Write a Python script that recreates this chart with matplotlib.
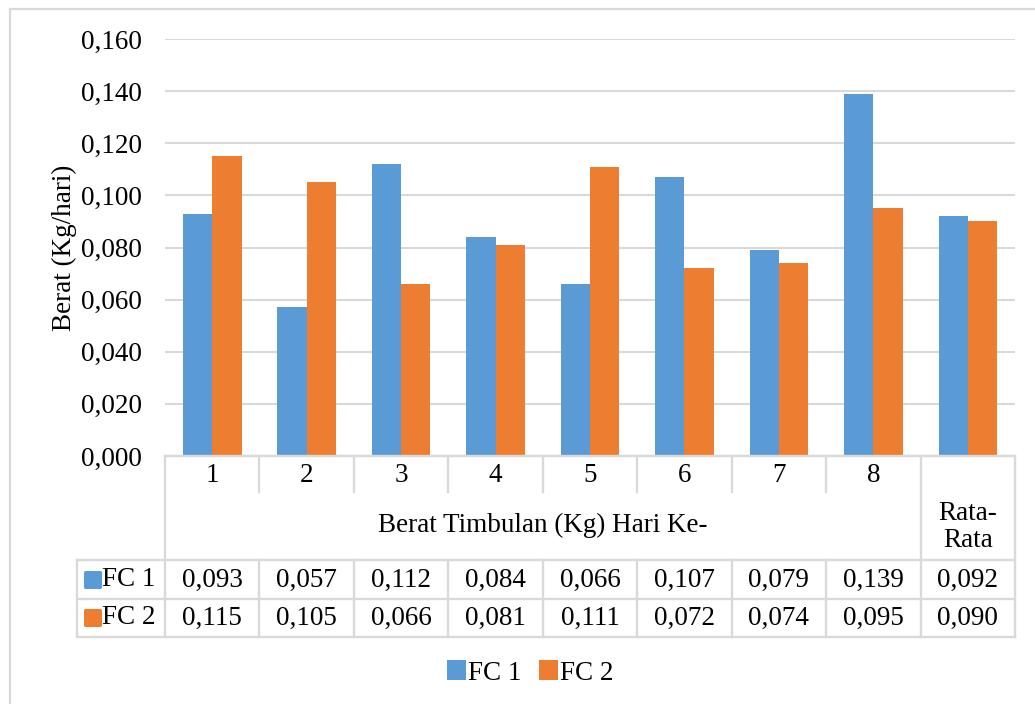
import matplotlib
matplotlib.use("Agg")
import matplotlib.pyplot as plt
import matplotlib.transforms as mtransforms
from matplotlib.patches import Patch, FancyBboxPatch

plt.rcParams['font.family'] = ['Liberation Serif', 'DejaVu Serif']

# ---- data ----
day_labels = ['1', '2', '3', '4', '5', '6', '7', '8']
avg_label = 'Rata-\nRata'
fc1 = [0.093, 0.057, 0.112, 0.084, 0.066, 0.107, 0.079, 0.139, 0.092]
fc2 = [0.115, 0.105, 0.066, 0.081, 0.111, 0.072, 0.074, 0.095, 0.090]
series_names = ['FC 1', 'FC 2']
y_ticks = [0.000, 0.020, 0.040, 0.060, 0.080, 0.100, 0.120, 0.140, 0.160]
group_title = 'Berat Timbulan (Kg) Hari Ke-'
y_label = 'Berat (Kg/hari)'

# ---- style ----
BLUE = '#5B9BD5'
ORANGE = '#ED7D31'
GRID = '#D9D9D9'
FS = 19.5

W, H = 1035, 704
fig = plt.figure(figsize=(W / 100, H / 100), dpi=100)


def fx(px):
    return px / W


def fy(py):
    return 1 - py / H


# plot area in pixel layout
L, R, T, B = 165, 1015, 39, 456
ax = fig.add_axes([fx(L), fy(B), fx(R) - fx(L), fy(T) - fy(B)])

n = len(fc1)
xs = list(range(n))
bw = 0.31
ax.bar([x - bw / 2 for x in xs], fc1, bw, color=BLUE, zorder=3)
ax.bar([x + bw / 2 for x in xs], fc2, bw, color=ORANGE, zorder=3)

ax.set_xlim(-0.5, n - 0.5)
ax.set_ylim(0, 0.16)
ax.set_yticks(y_ticks)
ax.set_yticklabels([f'{v:.3f}'.replace('.', ',') for v in y_ticks], fontsize=FS)
ax.tick_params(axis='y', length=0, pad=16.5)
ax.set_xticks([])
for s in ax.spines.values():
    s.set_visible(False)
ax.yaxis.grid(True, color=GRID, linewidth=1.5, zorder=0)
ax.set_axisbelow(True)
ax.set_ylabel(y_label, fontsize=FS, labelpad=3)

# ---- data table under the axis ----
trans = mtransforms.blended_transform_factory(ax.transData, fig.transFigure)
cat_px = (R - L) / n
key_left = -0.5 - (L - 77) / cat_px
row_top, row_mid, row1_bot, row2_bot, tab_bot = 456, 492, 560, 599, 637
lw = 1.7


def hline(y, x0, x1):
    ax.plot([x0, x1], [fy(y), fy(y)], color=GRID, lw=lw, transform=trans,
            clip_on=False, solid_capstyle='projecting', zorder=4)


def vline(x, y0, y1):
    ax.plot([x, x], [fy(y0), fy(y1)], color=GRID, lw=lw, transform=trans,
            clip_on=False, solid_capstyle='projecting', zorder=4)


hline(row_top, -0.5, n - 0.5)
hline(row1_bot, key_left, n - 0.5)
hline(row2_bot, key_left, n - 0.5)
hline(tab_bot, key_left, n - 0.5)
for k in range(1, 8):
    vline(k - 0.5, row_top, row_mid)
    vline(k - 0.5, row1_bot, tab_bot)
vline(-0.5, row_top, tab_bot)
vline(7.5, row_top, tab_bot)
vline(n - 0.5, row_top, tab_bot)
vline(key_left, row1_bot, tab_bot)

for i, lab in enumerate(day_labels):
    ax.text(i, fy(475), lab, transform=trans, ha='center', va='center', fontsize=FS)
ax.text(8, fy(527), avg_label, transform=trans, ha='center', va='center',
        fontsize=FS, linespacing=1.1)
ax.text(3.5, fy(525), group_title, transform=trans, ha='center', va='center', fontsize=FS)

for i in range(n):
    ax.text(i, fy(580), f'{fc1[i]:.3f}'.replace('.', ','), transform=trans,
            ha='center', va='center', fontsize=FS)
    ax.text(i, fy(618), f'{fc2[i]:.3f}'.replace('.', ','), transform=trans,
            ha='center', va='center', fontsize=FS)

# legend keys inside the table
for name, col, yc in [(series_names[0], BLUE, 580), (series_names[1], ORANGE, 618)]:
    sq = FancyBboxPatch((fx(84), fy(yc + 9)), fx(18), 18 / H,
                        boxstyle='round,pad=0,rounding_size=0.002',
                        transform=fig.transFigure, facecolor=col, edgecolor='none')
    fig.add_artist(sq)
    fig.text(fx(102), fy(yc), name, ha='left', va='center', fontsize=FS)

# ---- bottom legend ----
handles = [Patch(facecolor=BLUE, edgecolor='none', label=series_names[0]),
           Patch(facecolor=ORANGE, edgecolor='none', label=series_names[1])]
fig.legend(handles=handles, loc='center', bbox_to_anchor=(fx(530), fy(673)),
           ncol=2, frameon=False, fontsize=FS, handlelength=0.72, handleheight=0.72,
           handletextpad=0.05, columnspacing=0.65, borderaxespad=0, borderpad=0)

# chart outer frame
fig.add_artist(plt.Line2D([fx(10), fx(10)], [fy(9), 0], color=GRID, lw=1.6,
                          transform=fig.transFigure))
fig.add_artist(plt.Line2D([fx(10), 1], [fy(9), fy(9)], color=GRID, lw=1.6,
                          transform=fig.transFigure))

fig.savefig('out.png', dpi=100, facecolor='white')
